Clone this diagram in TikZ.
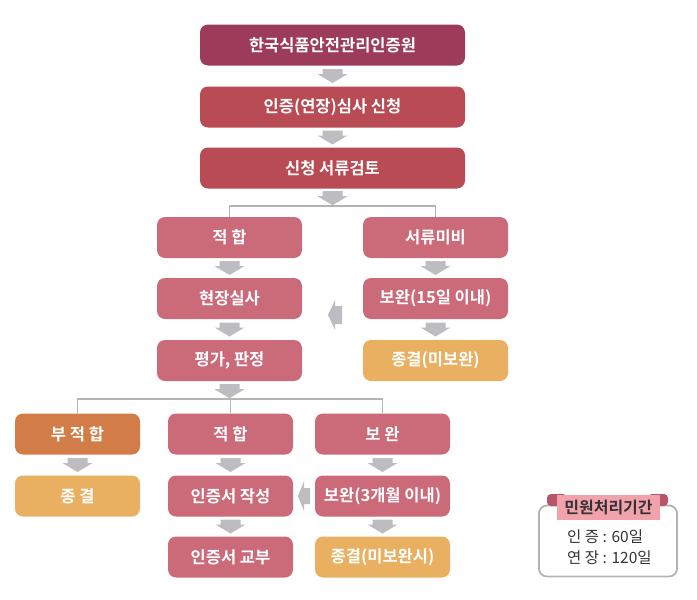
\documentclass[tikz,border=0pt]{standalone}
\usepackage{fontspec}
\setmainfont{Noto Sans CJK KR}[BoldFont={Noto Sans CJK KR Bold}]
\usetikzlibrary{calc}
\definecolor{cmaroon}{HTML}{9D3B5B}
\definecolor{cred}{HTML}{B84B53}
\definecolor{cpink}{HTML}{CB6A78}
\definecolor{corange}{HTML}{E9B062}
\definecolor{cdorange}{HTML}{D27D47}
\definecolor{carrow}{HTML}{BDBDC1}
\definecolor{cline}{HTML}{B4B4B4}
\definecolor{ctab}{HTML}{F2A2AA}
\definecolor{cear}{HTML}{B5566A}
\definecolor{ctext}{HTML}{333333}
\tikzset{
  box/.style={rounded corners=8pt, text=white, font=\bfseries\fontsize{16.5}{18}\selectfont, inner sep=0pt, minimum height=41pt},
  wide/.style={box, minimum width=265pt},
  mid/.style={box, minimum width=145pt},
  narrow/.style={box, minimum width=125pt},
  narrowb/.style={box, minimum width=135pt},
  conn/.style={draw=cline, line width=1.6pt},
  darr/.pic={\fill[carrow] (-10,-7) -- (10,-7) -- (10,-2) -- (15,-2) -- (0,7) -- (-15,-2) -- (-10,-2) -- cycle;},
  larr/.pic={\fill[carrow] (7,-9) -- (0,-9) -- (0,-15) -- (-7,0) -- (0,15) -- (0,9) -- (7,9) -- cycle;},
  larrs/.pic={\fill[carrow] (6,-8) -- (0,-8) -- (0,-15) -- (-6,0) -- (0,15) -- (0,8) -- (6,8) -- cycle;},
  legend/.style={text=ctext, font=\fontsize{15.5}{17}\selectfont, anchor=west, inner sep=0pt}
}
\begin{document}
\begin{tikzpicture}[x=1pt,y=-1pt]
\useasboundingbox (0,0) rectangle (697,600);
% top column
\node[wide, fill=cmaroon] (b1) at (332.5,45) {한국식품안전관리인증원};
\node[wide, fill=cred] (b2) at (332.5,107) {인증(연장)심사 신청};
\node[wide, fill=cred] (b3) at (332.5,168) {신청 서류검토};
% second level
\node[mid, fill=cpink] (ok1) at (229.5,237.5) {적 합};
\node[mid, fill=cpink] (miss) at (435.5,237.5) {서류미비};
\node[mid, fill=cpink] (site) at (229.5,298.5) {현장실사};
\node[mid, fill=cpink] (sup1) at (435.5,298.5) {보완(15일 이내)};
\node[mid, fill=cpink] (eval) at (229.5,360.5) {평가, 판정};
\node[mid, fill=corange] (end1) at (435.5,360.5) {종결(미보완)};
% third level
\node[narrow, fill=cdorange] (fail) at (77.5,434) {부 적 합};
\node[narrow, fill=cpink] (ok2) at (230.5,434) {적 합};
\node[narrowb, fill=cpink] (sup2) at (382.5,434) {보 완};
\node[narrow, fill=corange] (end2) at (77.5,496) {종 결};
\node[narrow, fill=cpink] (write) at (230.5,496) {인증서 작성};
\node[narrowb, fill=cpink] (sup3) at (382.5,496) {보완(3개월 이내)};
\node[narrow, fill=cpink] (issue) at (230.5,557) {인증서 교부};
\node[narrowb, fill=corange] (end3) at (382.5,557) {종결(미보완시)};
% down arrows
\pic at ($(b1.south)!.5!(b2.north)$) {darr};
\pic at ($(b2.south)!.5!(b3.north)$) {darr};
\pic at ($(b3.south)+(0,9.5)$) {darr};
\pic at ($(ok1.south)!.5!(site.north)$) {darr};
\pic at ($(site.south)!.5!(eval.north)$) {darr};
\pic at ($(miss.south)!.5!(sup1.north)$) {darr};
\pic at ($(sup1.south)!.5!(end1.north)$) {darr};
\pic at ($(eval.south)+(0,10)$) {darr};
\pic at ($(fail.south)!.5!(end2.north)$) {darr};
\pic at ($(ok2.south)!.5!(write.north)$) {darr};
\pic at ($(write.south)!.5!(issue.north)$) {darr};
\pic at ($(sup2.south)!.5!(sup3.north)$) {darr};
\pic at ($(sup3.south)!.5!(end3.north)$) {darr};
% left arrows
\pic at ($(site.east)!.5!(sup1.west)+(2.5,16.5)$) {larr};
\pic at ($(write.east)!.5!(sup3.west)$) {larrs};
% split connectors
\draw[conn] (ok1.north) -- ++(0,-11) -| (miss.north);
\draw[conn] (fail.north) -- ++(0,-14.5) -| (sup2.north);
\draw[conn] (ok2.north) -- ++(0,-14.5);
% legend
\node[draw=cline, line width=1.8pt, rounded corners=8pt, minimum width=138pt, minimum height=71pt, inner sep=0pt] (leg) at (608,541) {};
\fill[cear, rounded corners=4pt] (547,494) rectangle (567,506);
\fill[cear, rounded corners=4pt] (648,494) rectangle (668,506);
\node[fill=ctab, minimum width=103pt, minimum height=25pt, inner sep=0pt, text=ctext, font=\bfseries\fontsize{16}{17}\selectfont] (tab) at (608.5,507.5) {민원처리기간};
\node[legend] (l1) at (567,537) {인 증 : 60일};
\node[legend] (l2) at (567,558) {연 장 : 120일};
\end{tikzpicture}
\end{document}
